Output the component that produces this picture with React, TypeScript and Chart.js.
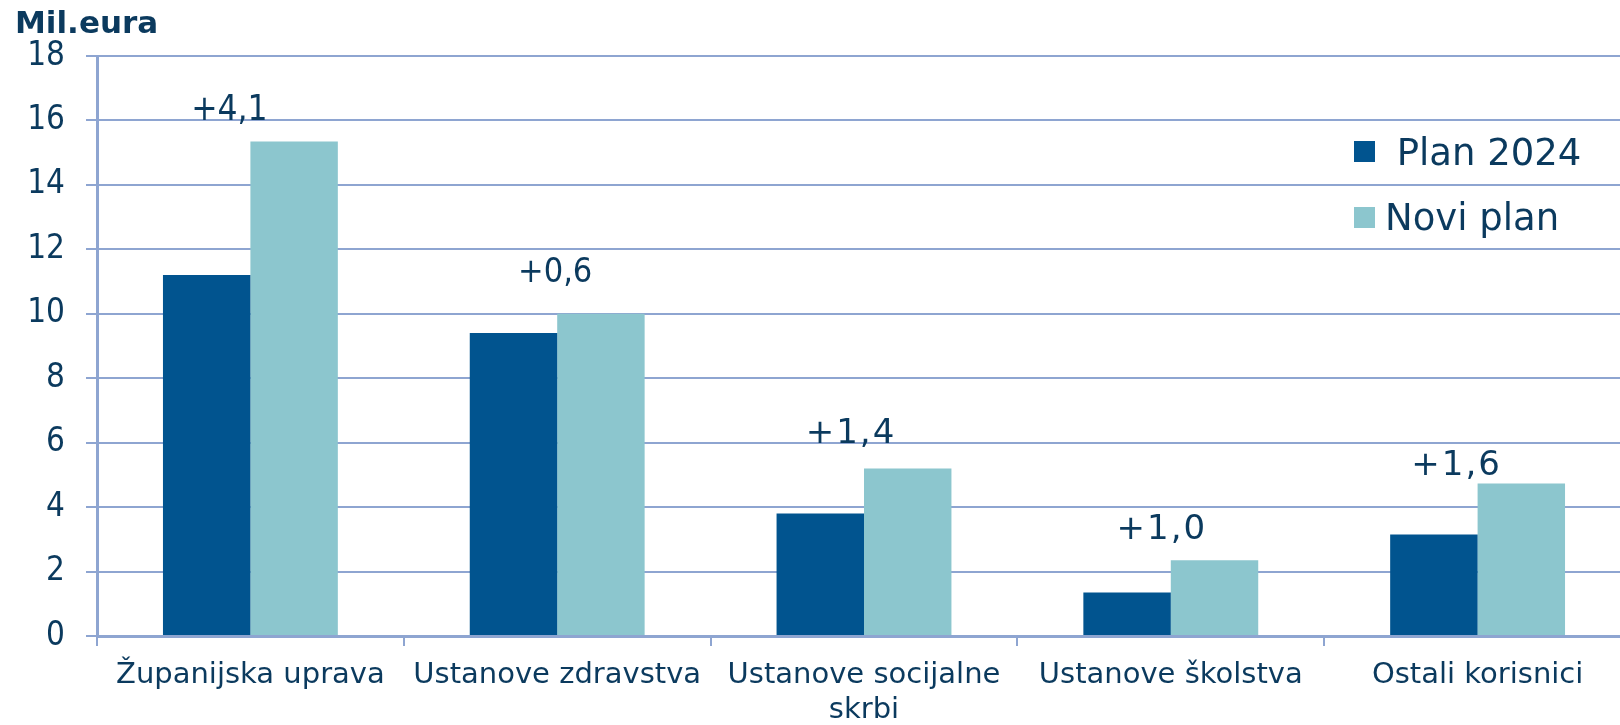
import React, { useEffect, useRef } from 'react';
import { Chart, registerables } from 'chart.js';

Chart.register(...registerables);

// ---- data ----
const categories: (string | string[])[] = [
  'Županijska uprava',
  'Ustanove zdravstva',
  ['Ustanove socijalne', 'skrbi'],
  'Ustanove školstva',
  'Ostali korisnici',
];
const plan2024 = [11.2, 9.4, 3.8, 1.35, 3.15];
const noviPlan = [15.35, 10.0, 5.2, 2.35, 4.73];
const diffLabels = ['+4,1', '+0,6', '+1,4', '+1,0', '+1,6'];
const diffLabelAt = [16, 11, 6, 3, 5]; // value (axis units) where each label's baseline sits
const yMin = 0;
const yMax = 18;
const yStep = 2;
const seriesNames = [' Plan 2024', 'Novi plan'];
const yTitle = 'Mil.eura';

// ---- styles ----
const DARK = '#01548F';
const LIGHT = '#8CC6CE';
const GRID = '#8EA5D1';
const TEXT = '#0B3A5E';
const FONT = '"DejaVu Sans", Verdana, sans-serif';
const FONT_C = '"DejaVu Sans Condensed", "DejaVu Sans", sans-serif';
const labelShift = [-21, -2, -13, -9, -21];
const labelFont = [
  `35px ${FONT_C}`,
  `34px ${FONT_C}`,
  `34px ${FONT}`,
  `34px ${FONT}`,
  `34px ${FONT}`,
];
const labelSpacing = [0, 0, 2, 2, 2];

const W = 1660;
const H = 725;

const overlayPlugin = {
  id: 'overlay',
  afterDatasetsDraw(chart: any) {
    const { ctx, scales } = chart;
    const xs = scales.x;
    const ys = scales.y;
    ctx.save();
    ctx.fillStyle = TEXT;
    ctx.textAlign = 'center';
    ctx.textBaseline = 'alphabetic';
    diffLabels.forEach((t, i) => {
      ctx.font = labelFont[i];
      (ctx as any).letterSpacing = `${labelSpacing[i]}px`;
      const x = xs.getPixelForValue(i) + labelShift[i];
      const y = ys.getPixelForValue(diffLabelAt[i]);
      ctx.fillText(t, x, y);
    });
    (ctx as any).letterSpacing = '0px';
    // title
    ctx.textAlign = 'left';
    ctx.font = `bold 31px ${FONT}`;
    ctx.fillText(yTitle, 15, 33);
    // legend
    const colors = [DARK, LIGHT];
    const sqY = [141, 207];
    const txtX = [1385, 1385];
    const baseY = [165, 230];
    ctx.font = `37px ${FONT}`;
    seriesNames.forEach((n, i) => {
      ctx.fillStyle = colors[i];
      ctx.fillRect(1354, sqY[i], 21, 21);
      ctx.fillStyle = TEXT;
      ctx.fillText(n, txtX[i], baseY[i]);
    });
    ctx.restore();
  },
};

export default function App() {
  const ref = useRef<HTMLCanvasElement | null>(null);
  useEffect(() => {
    document.body.style.margin = '0';
    const canvas = ref.current!;
    const chart = new Chart(canvas, {
      type: 'bar',
      data: {
        labels: categories as any,
        datasets: [
          {
            label: seriesNames[0],
            data: plan2024,
            backgroundColor: DARK,
            borderWidth: 0,
            barPercentage: 1.0,
            categoryPercentage: 0.57,
          },
          {
            label: seriesNames[1],
            data: noviPlan,
            backgroundColor: LIGHT,
            borderWidth: 0,
            barPercentage: 1.0,
            categoryPercentage: 0.57,
          },
        ],
      },
      options: {
        responsive: false,
        animation: false,
        devicePixelRatio: 1,
        layout: { padding: { top: 56, right: 29, bottom: 0, left: 0 } },
        plugins: {
          legend: { display: false },
          tooltip: { enabled: false },
          title: { display: false },
        },
        scales: {
          x: {
            offset: true,
            afterFit(scale: any) {
              scale.height = 89;
            },
            grid: {
              offset: true,
              drawOnChartArea: false,
              drawTicks: true,
              tickLength: 10,
              tickColor: GRID,
              lineWidth: 2,
              color: GRID,
            },
            border: { color: GRID, width: 3 },
            ticks: {
              color: TEXT,
              font: { family: FONT, size: 29, lineHeight: 1.2 },
              padding: 12,
              maxRotation: 0,
              autoSkip: false,
            },
          },
          y: {
            min: yMin,
            max: yMax,
            afterFit(scale: any) {
              scale.width = 97;
            },
            grid: {
              color: GRID,
              lineWidth: 2,
              drawTicks: true,
              tickLength: 11,
              tickColor: GRID,
            },
            border: { color: GRID, width: 3 },
            ticks: {
              stepSize: yStep,
              color: TEXT,
              font: { family: FONT_C, size: 33 },
              padding: 21,
            },
          },
        },
      },
      plugins: [overlayPlugin],
    });
    return () => chart.destroy();
  }, []);
  return (
    <div style={{ width: 1620, height: H, overflow: 'hidden', position: 'relative' }}>
      <canvas ref={ref} width={W} height={H} style={{ width: W, height: H, display: 'block' }} />
    </div>
  );
}
